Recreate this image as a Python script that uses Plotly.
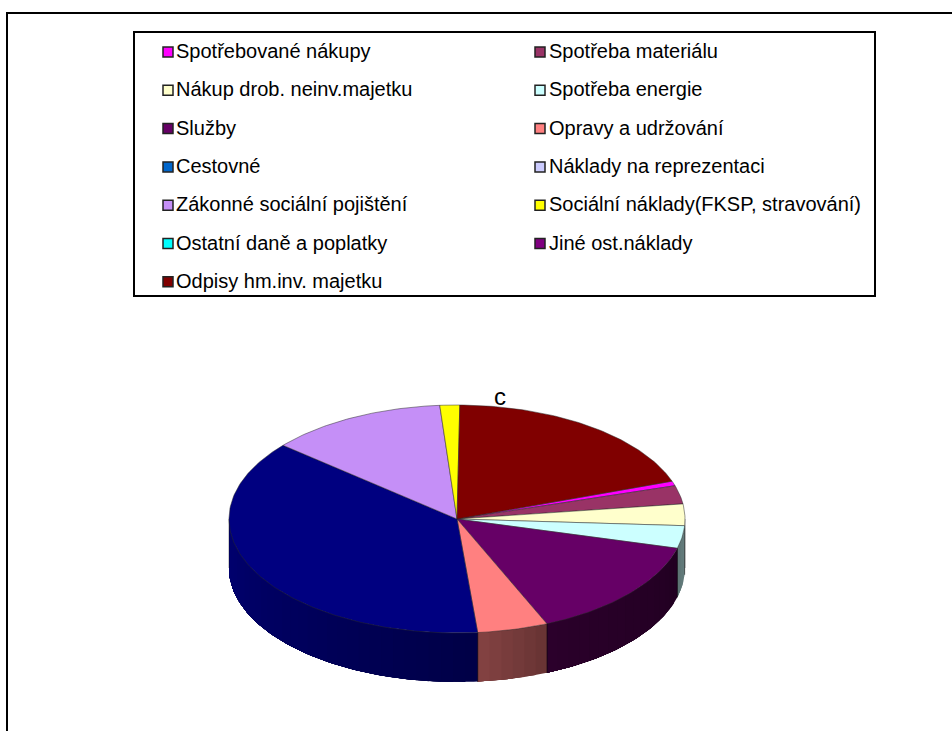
import numpy as np
import plotly.graph_objects as go

# Data (share of the pie, %), in series order
categories = ["Spotřebované nákupy", "Spotřeba materiálu", "Nákup drob. neinv.majetku", "Spotřeba energie",
              "Služby", "Opravy a udržování", "Cestovné", "Náklady na reprezentaci", "",
              "Zákonné sociální pojištění", "Sociální náklady(FKSP, stravování)", "Ostatní daně a poplatky",
              "Jiné ost.náklady", "Odpisy hm.inv. majetku"]
values = [0.67, 2.6, 3.05, 3.2, 14.4, 5.0, 0, 0, 37.6, 12.6, 1.4, 0, 0, 19.4]
colors = ["#FF00FF", "#993366", "#FFFFCC", "#CCFFFF", "#660066", "#FF8080", "#0066CC", "#CCCCFF", "#000080",
          "#C58FF7", "#FFFF00", "#00FFFF", "#800080", "#800000"]
wall_shade = [(.5, .5), (.5, .5), (.5, .5), (.5, .45), (.33, .42), (.4, .52), (1, 1), (1, 1), (.55, .88),
              (.5, .5), (.5, .5), (.5, .5), (.5, .5), (.5, .5)]
title_text = "c"

# Layout in page pixels
CX, CY, RX, RY, DEPTH = 457, 519, 228, 114, 49
START_DEG = 70.6
LEG_BOX = (134, 32, 875, 296)
LEG_MARK = (168, 540)
LEG_TEXT = (176, 549)
LEG_TOP, LEG_STEP = 52, 38.3
LEG_TEXT_DY = 1


def shade(hex_color, f):
    r, g, b = [int(hex_color[i:i + 2], 16) for i in (1, 3, 5)]
    return f"rgb({r * f:.0f},{g * f:.0f},{b * f:.0f})"


def px(t):
    return CX + RX * np.sin(np.radians(t))


def py(t):
    return CY - RY * np.cos(np.radians(t))


fig = go.Figure()
shares = np.array(values) / sum(values) * 360
ends = START_DEG + np.cumsum(shares)
starts = ends - shares

# side wall: overlapping strips painted in order give a soft shading
for i, (a, b) in enumerate(zip(starts, ends)):
    if shares[i] == 0:
        continue
    lo, hi = max(a, 90), min(b, 270)
    if hi <= lo:
        continue
    n = max(1, int((hi - lo) / 3))
    edges = np.linspace(lo, hi, n + 1)
    for k in range(n):
        t = np.linspace(edges[k], hi, max(3, int(hi - edges[k]) + 2))
        f = wall_shade[i][0] + (wall_shade[i][1] - wall_shade[i][0]) * (k + .5) / n
        fig.add_trace(go.Scatter(
            x=np.r_[px(t), px(t[::-1])], y=np.r_[py(t), py(t[::-1]) + DEPTH],
            mode="lines", fill="toself", fillcolor=shade(colors[i], f), line=dict(width=0),
            hoverinfo="skip", showlegend=False))
    for e in (lo, hi):
        fig.add_trace(go.Scatter(x=[px(e), px(e)], y=[py(e), py(e) + DEPTH], mode="lines",
                                 line=dict(color="rgba(0,0,0,.55)", width=.7),
                                 hoverinfo="skip", showlegend=False))

# top face
for i, (a, b) in enumerate(zip(starts, ends)):
    if shares[i] == 0:
        continue
    t = np.linspace(a, b, max(3, int(shares[i]) + 2))
    fig.add_trace(go.Scatter(
        x=np.r_[CX, px(t), CX], y=np.r_[CY, py(t), CY],
        mode="lines", fill="toself", fillcolor=colors[i],
        line=dict(color="rgba(40,40,40,.7)", width=.7),
        name=categories[i], showlegend=False))

# legend box entries, filled row by row
entries = [i for i, c in enumerate(categories) if c]
for n, i in enumerate(entries):
    row_y = LEG_TOP + (n // 2) * LEG_STEP
    fig.add_trace(go.Scatter(
        x=[LEG_MARK[n % 2]], y=[row_y], mode="markers", name=categories[i],
        marker=dict(symbol="square", size=10, color=colors[i], line=dict(color="#222222", width=1.5)),
        hoverinfo="skip", showlegend=False))
    fig.add_trace(go.Scatter(
        x=[LEG_TEXT[n % 2]], y=[row_y + LEG_TEXT_DY], mode="text", text=[categories[i]],
        textposition="middle right",
        textfont=dict(family="Liberation Sans", size=20, color="black"),
        hoverinfo="skip", showlegend=False))

fig.add_annotation(x=500, y=396, text=title_text, showarrow=False, xref="x", yref="y",
                   font=dict(family="Liberation Sans", size=24, color="black"))

fig.update_layout(
    width=952, height=731, margin=dict(l=0, r=0, t=0, b=0),
    paper_bgcolor="white", plot_bgcolor="white", showlegend=False,
    xaxis=dict(range=[0, 952], visible=False, fixedrange=True),
    yaxis=dict(range=[731, 0], visible=False, fixedrange=True),
    shapes=[
        dict(type="line", x0=7, y0=13, x1=952, y1=13, line=dict(color="black", width=2), layer="below"),
        dict(type="line", x0=7, y0=12, x1=7, y1=731, line=dict(color="black", width=2), layer="below"),
        dict(type="rect", x0=LEG_BOX[0], y0=LEG_BOX[1], x1=LEG_BOX[2], y1=LEG_BOX[3],
             line=dict(color="black", width=2), layer="below"),
    ],
)
fig.write_html("out.html", config=dict(displayModeBar=False),
               post_script="document.body.style.margin='0';document.body.style.overflow='hidden';")
